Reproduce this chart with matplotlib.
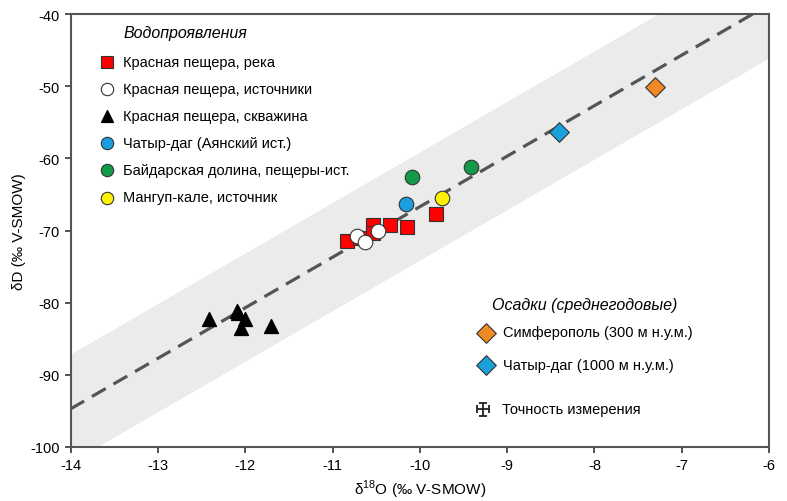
import matplotlib
matplotlib.use("Agg")
import matplotlib.pyplot as plt
import numpy as np

plt.rcParams['font.family'] = ['Liberation Sans', 'DejaVu Sans']
plt.rcParams['mathtext.fontset'] = 'custom'
plt.rcParams['mathtext.rm'] = 'Liberation Sans'
plt.rcParams['axes.unicode_minus'] = False
plt.rcParams['font.size'] = 10.5

# Красная пещера, река
river_x = [-10.84, -10.69, -10.535, -10.54, -10.344, -10.15, -9.81]
river_y = [-71.5, -71.0, -69.2, -70.3, -69.2, -69.5, -67.7]
# Красная пещера, источники
spring_x = [-10.72, -10.63, -10.48]
spring_y = [-70.7, -71.6, -70.0]
# Красная пещера, скважина
well_x = [-12.415, -12.094, -12.08, -12.006, -12.055, -11.711]
well_y = [-82.3, -81.2, -81.5, -82.3, -83.5, -83.2]
# Чатыр-даг (Аянский ист.)
chatyr_x = [-10.16]
chatyr_y = [-66.3]
# Байдарская долина
baydar_x = [-10.095, -9.415]
baydar_y = [-62.6, -61.2]
# Мангуп-кале
mangup_x = [-9.75]
mangup_y = [-65.5]
# Осадки
simf_x = [-7.30]
simf_y = [-50.15]
chprec_x = [-8.40]
chprec_y = [-56.3]
# точность измерения
acc_x = [-9.28]
acc_y = [-94.8]
acc_xerr = [0.07]
acc_yerr = [0.9]

slope = 7.0
intercept = 3.3
band = 7.5

fig = plt.figure(figsize=(7.87, 5.02), dpi=100)
ax = fig.add_axes([0.090, 0.1076, 0.887, 0.8624])

xl = np.array([-14.5, -5.5])
ax.fill_between(xl, slope * xl + intercept - band, slope * xl + intercept + band,
                color='#ebebeb', lw=0, zorder=0)
ax.plot(xl, slope * xl + intercept, color='#555555', lw=2.3, dashes=(5, 2.8), zorder=1)

ek = dict(edgecolor='#333333', linewidths=0.8, zorder=3)
h1 = ax.scatter(river_x, river_y, marker='s', s=100, color='#ff0000', label='Красная пещера, река', **ek)
h2 = ax.scatter(spring_x, spring_y, marker='o', s=110, color='white', label='Красная пещера, источники', **ek)
h3 = ax.scatter(well_x, well_y, marker='^', s=100, color='black', label='Красная пещера, скважина', zorder=3)
h4 = ax.scatter(chatyr_x, chatyr_y, marker='o', s=110, color='#1b9ee0', label='Чатыр-даг (Аянский ист.)', **ek)
h5 = ax.scatter(baydar_x, baydar_y, marker='o', s=110, color='#119a47', label='Байдарская долина, пещеры-ист.', **ek)
h6 = ax.scatter(mangup_x, mangup_y, marker='o', s=110, color='#fff200', label='Мангуп-кале, источник', **ek)
h7 = ax.scatter(simf_x, simf_y, marker='D', s=100, color='#f08a24', label='Симферополь (300 м н.у.м.)', **ek)
h8 = ax.scatter(chprec_x, chprec_y, marker='D', s=100, color='#1ba0dc', label='Чатыр-даг (1000 м н.у.м.)', **ek)

ax.errorbar(acc_x, acc_y, xerr=acc_xerr, yerr=acc_yerr, fmt='none', ecolor='#222222',
            elinewidth=1.3, capsize=3, capthick=1.3, zorder=3)
ax.text(acc_x[0] + 0.22, acc_y[0], 'Точность измерения', va='center', ha='left')

leg1 = ax.legend(handles=[h1, h2, h3, h4, h5, h6], loc='upper left',
                 bbox_to_anchor=(0.0415, 0.906), frameon=False, borderpad=0,
                 borderaxespad=0, handlelength=1.0, handletextpad=0.6,
                 labelspacing=0.9, markerscale=0.85)
ax.add_artist(leg1)
ax.legend(handles=[h7, h8], loc='upper left', bbox_to_anchor=(0.585, 0.281),
          frameon=False, borderpad=0, borderaxespad=0, handlelength=1.0,
          handletextpad=0.6, labelspacing=1.25, markerscale=1.0)

ax.text(0.075, 0.958, 'Водопроявления', transform=ax.transAxes, style='italic',
        fontsize=11.5, va='center', ha='left')
ax.text(0.603, 0.33, 'Осадки (среднегодовые)', transform=ax.transAxes, style='italic',
        fontsize=11.5, va='center', ha='left')

ax.set_xlim(-14, -6)
ax.set_ylim(-100, -40)
ax.set_xticks(np.arange(-14, -5, 1))
ax.set_yticks(np.arange(-100, -39, 10))
ax.set_xlabel('δ$^{18}$O (‰ V-SMOW)', fontsize=11)
ax.set_ylabel('δD (‰ V-SMOW)', fontsize=11)
ax.xaxis.labelpad = 4
ax.yaxis.labelpad = 3
for s in ax.spines.values():
    s.set_color('#555555')
    s.set_linewidth(1.5)
ax.tick_params(direction='out', length=4, width=1.3, color='#444444', pad=4)

fig.savefig('out.png', dpi=100)
